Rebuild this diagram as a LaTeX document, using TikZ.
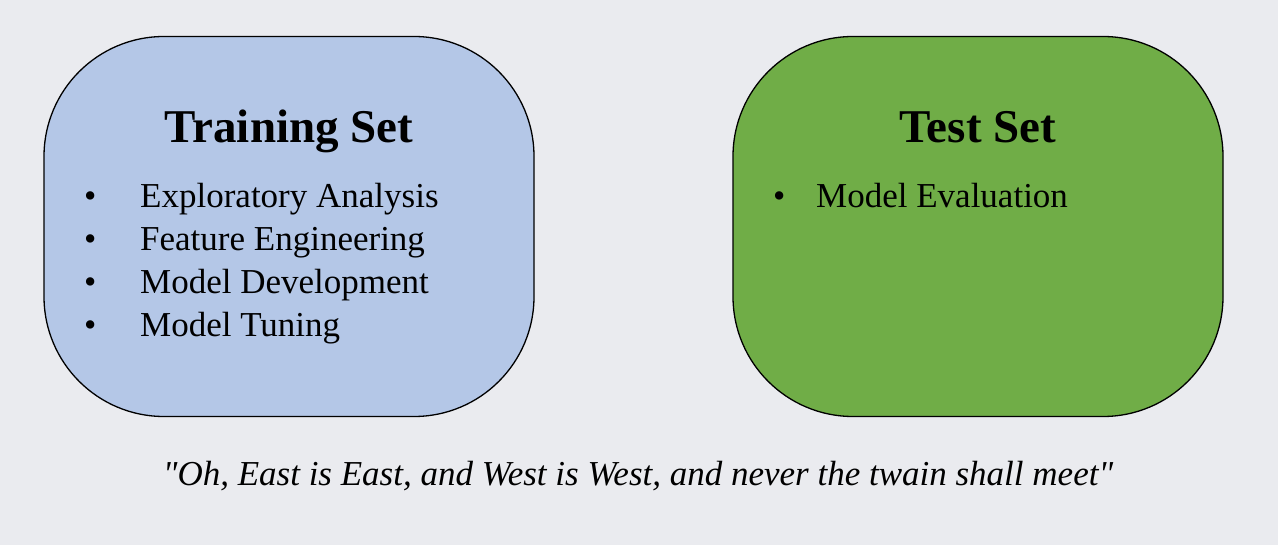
\documentclass[tikz,border=0pt]{standalone}
\usepackage{fontspec}
\setmainfont{Liberation Serif}[Ligatures=TeXOff]
\usetikzlibrary{positioning}

\definecolor{bggray}{HTML}{EAEBEF}
\definecolor{trainblue}{HTML}{B4C7E7}
\definecolor{testgreen}{HTML}{70AD47}

\tikzset{
  setbox/.style={draw=black, line width=1.3pt, rectangle, rounded corners=120pt,
    minimum width=490pt, minimum height=380pt, inner sep=0pt},
  settitle/.style={anchor=base, font=\bfseries\fontsize{47}{50}\selectfont},
  item/.style={anchor=base west, inner sep=0pt, font=\fontsize{35}{40}\selectfont},
  quote/.style={anchor=base, inner sep=0pt, font=\itshape\fontsize{35}{40}\selectfont}
}

\begin{document}
\begin{tikzpicture}[x=1pt, y=-1pt]
    % canvas
    \fill[bggray] (0,0) rectangle (1278,545);
    \useasboundingbox (0,0) rectangle (1278,545);
    % the two sets
    \node (train) [setbox, fill=trainblue] at (289,226.5) {};
    \node (test) [setbox, fill=testgreen] at (978,226.5) {};
    \node (traintitle) [settitle] at (289,143) {Training Set};
    \node (testtitle) [settitle] at (978,143) {Test Set};
    % training tasks
    \foreach \name/\txt [count=\i from 0] in {explore/Exploratory Analysis, feature/Feature Engineering, develop/Model Development, tune/Model Tuning} {
        \node (dot\name) [item] at (84,208+43*\i) {\textbullet};
        \node (\name) [item] at (140,208+43*\i) {\txt};
    }
    % test task
    \node (doteval) [item] at (773,208) {\textbullet};
    \node (eval) [item] at (816,208) {Model Evaluation};
    % caption
    \node (motto) [quote] at (638,485) {"Oh, East is East, and West is West, and never the twain shall meet"};
\end{tikzpicture}
\end{document}
